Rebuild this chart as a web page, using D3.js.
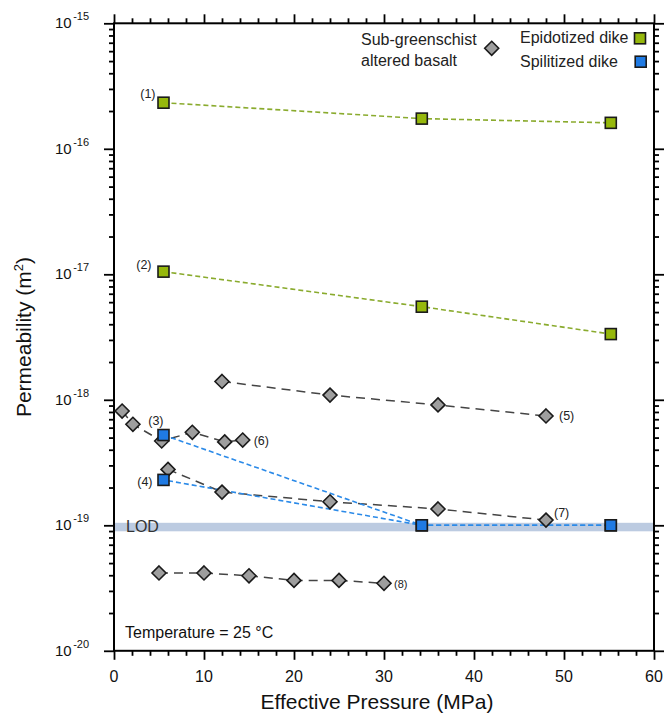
<!DOCTYPE html>
<html>
<head>
<meta charset="utf-8">
<script src="https://cdn.jsdelivr.net/npm/d3@7"></script>
<style>
  html, body { margin: 0; padding: 0; background: #fff; }
  svg { display: block; font-family: "Liberation Sans", Arial, Helvetica, sans-serif; }
</style>
</head>
<body>
<svg id="chart" width="665" height="714"></svg>
<script>
// ---- Data ----
const xDomain = [0, 60];
const yDomain = [1e-20, 1e-15];
const xMajorTicks = [0, 10, 20, 30, 40, 50, 60];
const xMinorTicks = [2, 4, 6, 8, 12, 14, 16, 18, 22, 24, 26, 28, 32, 34, 36, 38, 42, 44, 46, 48, 52, 54, 56, 58];
const yMajorExponents = [-15, -16, -17, -18, -19, -20];

// Epidotized dike
const epiX = [5.5, 34.2, 55.2];
const epi1 = [2.33e-16, 1.74e-16, 1.61e-16];
const epi2 = [1.05e-17, 5.52e-18, 3.34e-18];
// Spilitized dike
const spilX = [5.5, 34.2, 55.2];
const spil3 = [5.24e-19, 1e-19, 1e-19];
const spil4 = [2.30e-19, 1e-19, 1e-19];
// Sub-greenschist altered basalt
const bas5X = [12, 24, 36, 48];
const bas5 = [1.40e-18, 1.09e-18, 9.1e-19, 7.43e-19];
const bas6X = [0.9, 2.1, 5.3, 8.7, 12.3, 14.3];
const bas6 = [8.14e-19, 6.38e-19, 4.70e-19, 5.51e-19, 4.62e-19, 4.78e-19];
const bas7X = [6, 12, 24, 36, 48];
const bas7 = [2.79e-19, 1.84e-19, 1.54e-19, 1.35e-19, 1.10e-19];
const bas8X = [5, 10, 15, 20, 25, 30];
const bas8 = [4.17e-20, 4.17e-20, 3.96e-20, 3.64e-20, 3.64e-20, 3.45e-20];
// Limit of detection
const lodValue = 1e-19;

// ---- Layout ----
const pL = 114, pR = 654, pT = 23.3, pB = 650.8;
const svg = d3.select("#chart");
const x = d3.scaleLinear().domain(xDomain).range([pL, pR]);
const y = d3.scaleLog().domain(yDomain).range([pB, pT]);

const yMinorTicks = [];
yMajorExponents.slice(0, -1).forEach(e => {
  for (let m = 2; m <= 9; m++) yMinorTicks.push(m * Math.pow(10, e - 1));
});

const GREEN = "#96b80c", BLUE = "#1f7ae3", GRAY = "#9e9e9e";

// LOD band
svg.append("rect")
  .attr("x", pL).attr("width", pR - pL)
  .attr("y", y(lodValue) - 2.5).attr("height", 8.5)
  .attr("fill", "#bccbe1");

svg.append("text").attr("x", pL + 12).attr("y", y(lodValue) + 7)
  .attr("font-size", 16).attr("fill", "#333").text("LOD");

// axes (ticks)
function styleAxis(g) {
  g.select(".domain").remove();
  g.selectAll(".tick line").attr("stroke", "#000").attr("stroke-width", 1.8);
  g.selectAll(".tick text").remove();
}
svg.append("g").attr("transform", `translate(0,${pB})`)
  .call(d3.axisBottom(x).tickValues(xMajorTicks).tickSize(9)).call(styleAxis);
svg.append("g").attr("transform", `translate(0,${pB})`)
  .call(d3.axisBottom(x).tickValues(xMinorTicks).tickSize(5)).call(styleAxis);
svg.append("g").attr("transform", `translate(0,${pT})`)
  .call(d3.axisTop(x).tickValues(xMajorTicks).tickSize(9)).call(styleAxis);
svg.append("g").attr("transform", `translate(0,${pT})`)
  .call(d3.axisTop(x).tickValues(xMinorTicks).tickSize(5)).call(styleAxis);
const yMajor = yMajorExponents.map(e => Math.pow(10, e));
svg.append("g").attr("transform", `translate(${pL},0)`)
  .call(d3.axisLeft(y).tickValues(yMajor).tickSize(10)).call(styleAxis);
svg.append("g").attr("transform", `translate(${pL},0)`)
  .call(d3.axisLeft(y).tickValues(yMinorTicks).tickSize(5)).call(styleAxis);
svg.append("g").attr("transform", `translate(${pR},0)`)
  .call(d3.axisRight(y).tickValues(yMajor).tickSize(10)).call(styleAxis);
svg.append("g").attr("transform", `translate(${pR},0)`)
  .call(d3.axisRight(y).tickValues(yMinorTicks).tickSize(5)).call(styleAxis);

// frame
svg.append("rect").attr("x", pL).attr("y", pT)
  .attr("width", pR - pL).attr("height", pB - pT)
  .attr("fill", "none").attr("stroke", "#000").attr("stroke-width", 2);

// x tick labels
svg.append("g").selectAll("text").data(xMajorTicks).join("text")
  .attr("x", d => x(d)).attr("y", pB + 31)
  .attr("text-anchor", "middle").attr("font-size", 16).attr("fill", "#111")
  .text(d => d);

// y tick labels with superscript
yMajorExponents.forEach(e => {
  const t = svg.append("text").attr("x", 55).attr("y", y(Math.pow(10, e)) + 5)
    .attr("font-size", 15).attr("fill", "#111");
  t.append("tspan").text("10");
  t.append("tspan").attr("dx", 1.5).attr("dy", -8).attr("font-size", 11).text(String(e));
});

// axis titles
svg.append("text").attr("x", (pL + pR) / 2 - 7).attr("y", 708.5)
  .attr("text-anchor", "middle").attr("font-size", 21).attr("fill", "#111")
  .text("Effective Pressure (MPa)");
const yt = svg.append("text")
  .attr("transform", `translate(31,${(pT + pB) / 2}) rotate(-90)`)
  .attr("text-anchor", "middle").attr("font-size", 21).attr("fill", "#111");
yt.append("tspan").text("Permeability (m");
yt.append("tspan").attr("dy", -8).attr("font-size", 13).text("2");
yt.append("tspan").attr("dy", 8).text(")");

// lines
const line = d3.line().x(d => x(d[0])).y(d => y(d[1]));
function firstSegLen(xs, ys) {
  return Math.hypot(x(xs[1]) - x(xs[0]), y(ys[1]) - y(ys[0]));
}
function drawLine(xs, ys, color, dash, width, offset) {
  svg.append("path").datum(xs.map((v, i) => [v, ys[i]]))
    .attr("d", line).attr("fill", "none")
    .attr("stroke", color).attr("stroke-width", width)
    .attr("stroke-dasharray", dash)
    .attr("stroke-dashoffset", offset || 0);
}
drawLine(epiX, epi1, "#8aab2e", "5,3", 1.6);
drawLine(epiX, epi2, "#8aab2e", "5,3", 1.6);
drawLine(bas5X, bas5, "#444", "9,6", 1.5);
drawLine(bas6X, bas6, "#444", "9,6", 1.5);
drawLine(bas7X, bas7, "#444", "9,6", 1.5);
drawLine(bas8X, bas8, "#444", "9,6", 1.5);
// align dash phase of both spilitized lines where they overlap along the LOD
const la = firstSegLen(spilX, spil3), lb = firstSegLen(spilX, spil4);
const period = 8;
const offB = (((la - lb) % period) + period) % period;
drawLine(spilX, spil3, "#2b8ae8", "5,3", 1.6, 0);
drawLine(spilX, spil4, "#2b8ae8", "5,3", 1.6, offB);

// markers
const D = 7;
function diamonds(xs, ys) {
  svg.append("g").selectAll("path").data(xs.map((v, i) => [v, ys[i]])).join("path")
    .attr("d", d => `M${x(d[0])},${y(d[1]) - D}L${x(d[0]) + D},${y(d[1])}L${x(d[0])},${y(d[1]) + D}L${x(d[0]) - D},${y(d[1])}Z`)
    .attr("fill", GRAY).attr("stroke", "#1a1a1a").attr("stroke-width", 1.6);
}
const S = 11;
function squares(xs, ys, color) {
  svg.append("g").selectAll("rect").data(xs.map((v, i) => [v, ys[i]])).join("rect")
    .attr("x", d => x(d[0]) - S / 2).attr("y", d => y(d[1]) - S / 2)
    .attr("width", S).attr("height", S)
    .attr("fill", color).attr("stroke", "#1a1a1a").attr("stroke-width", 1.6);
}
diamonds(bas5X, bas5);
diamonds(bas6X, bas6);
diamonds(bas7X, bas7);
diamonds(bas8X, bas8);
squares(epiX, epi1, GREEN);
squares(epiX, epi2, GREEN);
squares(spilX, spil3, BLUE);
squares(spilX, spil4, BLUE);

// series labels
function label(px, py, dx, dy, txt, anchor, size) {
  svg.append("text").attr("x", x(px) + dx).attr("y", y(py) + dy)
    .attr("text-anchor", anchor).attr("font-size", size || 12.5).attr("fill", "#222").text(txt);
}
label(epiX[0], epi1[0], -8, -5, "(1)", "end");
label(epiX[0], epi2[0], -12, -3, "(2)", "end");
label(spilX[0], spil3[0], 0, -10, "(3)", "end");
label(spilX[0], spil4[0], -11, 6, "(4)", "end");
label(bas5X[3], bas5[3], 13, 4, "(5)", "start");
label(bas6X[5], bas6[5], 11, 4.5, "(6)", "start");
label(bas7X[4], bas7[4], 8, -3, "(7)", "start");
label(bas8X[5], bas8[5], 10, 5, "(8)", "start", 11);

// temperature note
svg.append("text").attr("x", 125).attr("y", 637.5).attr("font-size", 16).attr("fill", "#111")
  .text("Temperature = 25 °C");

// legend
svg.append("text").attr("x", 361).attr("y", 44.5).attr("font-size", 16).attr("fill", "#222").text("Sub-greenschist");
svg.append("text").attr("x", 361).attr("y", 66).attr("font-size", 16).attr("fill", "#222").text("altered basalt");
svg.append("path")
  .attr("d", `M491.7,${48.3 - D}L${491.7 + D},48.3L491.7,${48.3 + D}L${491.7 - D},48.3Z`)
  .attr("fill", GRAY).attr("stroke", "#1a1a1a").attr("stroke-width", 1.6);
svg.append("text").attr("x", 520).attr("y", 43).attr("font-size", 16).attr("fill", "#222").text("Epidotized dike");
svg.append("text").attr("x", 520).attr("y", 66.5).attr("font-size", 16).attr("fill", "#222").text("Spilitized dike");
svg.append("rect").attr("x", 640 - S / 2).attr("y", 38.3 - S / 2).attr("width", S).attr("height", S)
  .attr("fill", GREEN).attr("stroke", "#1a1a1a").attr("stroke-width", 1.6);
svg.append("rect").attr("x", 640.7 - S / 2).attr("y", 61.7 - S / 2).attr("width", S).attr("height", S)
  .attr("fill", BLUE).attr("stroke", "#1a1a1a").attr("stroke-width", 1.6);
</script>
</body>
</html>
